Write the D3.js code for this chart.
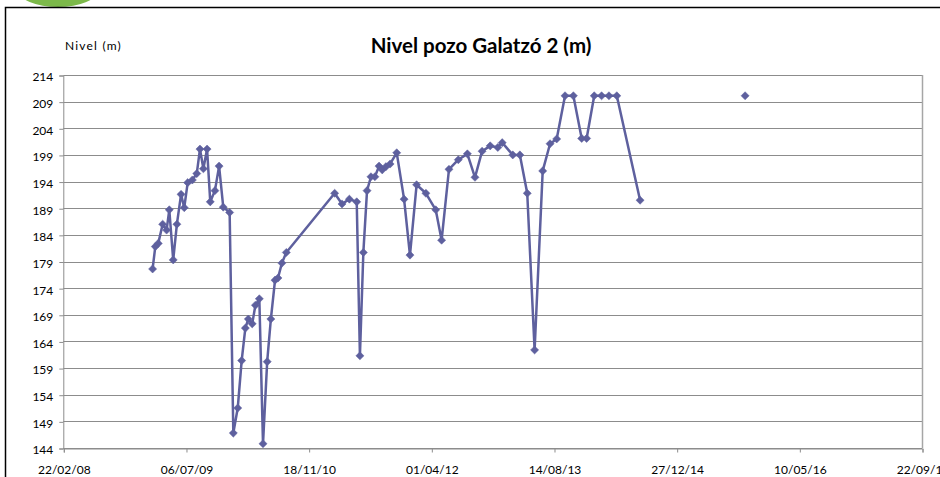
<!DOCTYPE html>
<html><head><meta charset="utf-8">
<script src="https://cdn.jsdelivr.net/npm/d3@7"></script>
<style>body{margin:0;background:#fff;overflow:hidden}svg{display:block}</style>
</head><body>
<script>
const title = "Nivel pozo Galatzó 2 (m)";
const yTitle = "Nivel (m)";
const dates = ["2009-02-20","2009-03-03","2009-03-15","2009-04-02","2009-04-18","2009-04-29","2009-05-15","2009-05-30","2009-06-16","2009-06-29",
"2009-07-13","2009-08-01","2009-08-19","2009-09-01","2009-09-15","2009-09-30","2009-10-13","2009-11-01","2009-11-18","2009-12-05",
"2009-12-31","2010-01-15","2010-02-02","2010-02-18","2010-03-05","2010-03-17","2010-04-02","2010-04-15","2010-05-01","2010-05-16",
"2010-06-02","2010-06-17","2010-07-04","2010-07-16","2010-08-01","2010-08-19","2011-03-04","2011-04-03","2011-05-03","2011-06-02",
"2011-06-15","2011-06-29","2011-07-14","2011-07-30","2011-08-15","2011-09-01","2011-09-14","2011-09-29","2011-10-16","2011-11-12",
"2011-12-12","2012-01-05","2012-02-01","2012-03-10","2012-04-19","2012-05-13","2012-06-12","2012-07-20","2012-08-26","2012-09-26",
"2012-10-25","2012-11-27","2012-12-28","2013-01-15","2013-02-27","2013-03-28","2013-04-27","2013-05-27","2013-06-29","2013-07-29",
"2013-08-25","2013-09-28","2013-11-01","2013-12-05","2013-12-25","2014-01-25","2014-02-24","2014-03-26","2014-04-27","2014-07-31",
"2015-01-01","2015-10-02"];
const levels = [177.6,181.8,182.4,186.0,184.9,188.7,179.3,186.0,191.6,189.1,
193.8,194.3,195.5,200.1,196.4,200.1,190.2,192.3,196.9,189.2,
188.2,146.8,151.5,160.4,166.5,168.2,167.3,170.8,172.0,144.8,
160.2,168.2,175.5,175.9,178.7,180.7,191.8,189.8,190.7,190.2,
161.3,180.7,192.3,194.9,194.9,196.9,196.2,196.8,197.3,199.4,
190.7,180.2,193.4,191.8,188.7,183.0,196.3,198.1,199.2,194.8,
199.7,200.7,200.4,201.3,199.0,199.0,191.8,162.4,196.0,201.1,
202.0,210.1,210.1,202.1,202.1,210.1,210.1,210.1,210.1,190.5,
null,210.1];
const yTicks = [144,149,154,159,164,169,174,179,184,189,194,199,204,209,214];
const xTickLabels = ["22/02/08","06/07/09","18/11/10","01/04/12","14/08/13","27/12/14","10/05/16","22/09/17"];

const W = 940, H = 477;
const L = 63.3, R = 922, T = 75, B = 448;
const parse = d3.timeParse("%Y-%m-%d");
const parseTick = d3.timeParse("%d/%m/%y");
const data = dates.map((d,i)=>({date:parse(d), v:levels[i]}));
const tickDates = xTickLabels.map(parseTick);

const svg = d3.select("body").append("svg").attr("width",W).attr("height",H);
const font = "Lato, 'Open Sans', sans-serif";

// logo fragment
svg.append("ellipse").attr("cx",58).attr("cy",-10).attr("rx",40).attr("ry",17).attr("fill","#7cb94a");
// chart border
svg.append("rect").attr("x",5.5).attr("y",7.5).attr("width",W+20).attr("height",H+20)
  .attr("fill","none").attr("stroke","#000").attr("stroke-width",1.5);

const x = d3.scaleTime().domain([tickDates[0], tickDates[tickDates.length-1]]).range([L,R]);
const y = d3.scaleLinear().domain([yTicks[0], yTicks[yTicks.length-1]]).range([B,T]);

// gridlines
svg.append("g").selectAll("line").data(yTicks).join("line")
  .attr("x1",L).attr("x2",R).attr("y1",d=>Math.round(y(d))+0.5).attr("y2",d=>Math.round(y(d))+0.5)
  .attr("stroke","#8c8c8c").attr("stroke-width",1);
// right border of plot area
svg.append("line").attr("x1",R+0.5).attr("x2",R+0.5).attr("y1",T).attr("y2",B).attr("stroke","#a6a6a6").attr("stroke-width",1.5);

// y axis
const yAxis = d3.axisLeft(y).tickValues(yTicks).tickSize(4).tickPadding(6).tickFormat(d3.format("d"));
const gy = svg.append("g").attr("transform",`translate(${L},0.5)`).call(yAxis);
gy.select(".domain").attr("stroke","#8c8c8c");
gy.selectAll(".tick line").attr("stroke","#8c8c8c");
gy.selectAll("text").attr("font-family",font).attr("font-size",12).attr("fill","#000").attr("dy","0.45em");

// x axis
const xAxis = d3.axisBottom(x).tickValues(tickDates).tickSize(4).tickPadding(13).tickFormat((d,i)=>xTickLabels[i]);
const gx = svg.append("g").attr("transform",`translate(0.5,${B+0.5})`).call(xAxis);
gx.select(".domain").attr("stroke","#8c8c8c");
gx.selectAll(".tick line").attr("stroke","#8c8c8c");
gx.selectAll("text").attr("font-family",font).attr("font-size",12).attr("fill","#000");

// line
const col = "#5e609e";
const line = d3.line().defined(d=>d.v!=null).x(d=>x(d.date)).y(d=>y(d.v));
svg.append("path").datum(data).attr("d",line).attr("fill","none").attr("stroke",col).attr("stroke-width",2.5).attr("stroke-linejoin","round");
svg.append("g").selectAll("path").data(data.filter(d=>d.v!=null)).join("path")
  .attr("d",d3.symbol(d3.symbolDiamond2, 42))
  .attr("transform",d=>`translate(${x(d.date)},${y(d.v)})`)
  .attr("fill",col).attr("stroke",col).attr("stroke-width",0.5);

// titles
svg.append("text").attr("x",481).attr("y",53).attr("text-anchor","middle")
  .attr("font-family",font).attr("font-weight","bold").attr("font-size",20.5).attr("fill","#000").text(title);
svg.append("text").attr("x",65).attr("y",50)
  .attr("font-family",font).attr("font-size",12).attr("letter-spacing",1.2).attr("fill","#000").text(yTitle);
</script>
</body></html>
